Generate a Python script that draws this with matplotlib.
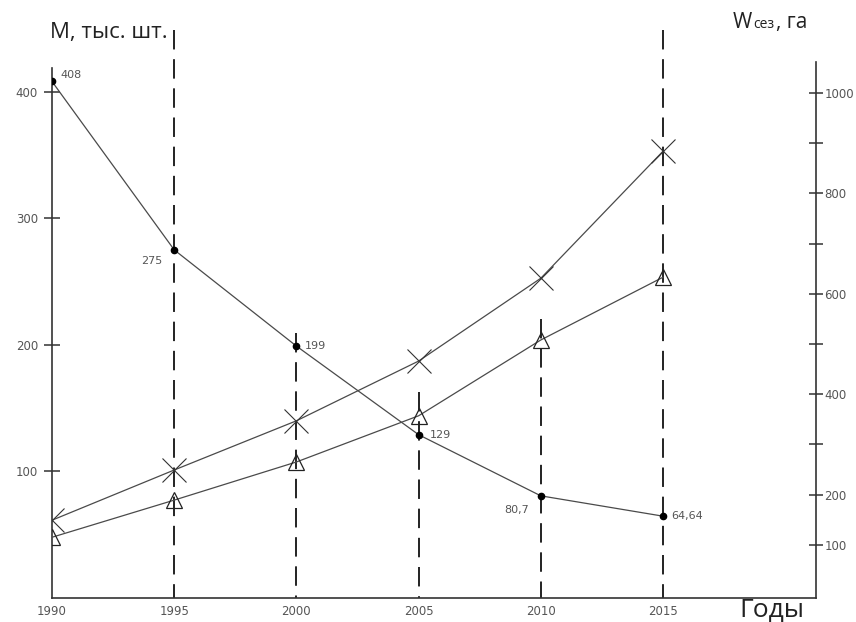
"""
Динамика поголовья (M) и площадей (W сез) по годам, 1990-2015.
Two y-axes: M on the left, W on the right, dashed year guides.
"""

import matplotlib
matplotlib.use("Agg")
import matplotlib.pyplot as plt

# --------------------------------------------------------------------------- #
#  Data
# --------------------------------------------------------------------------- #
YEARS = [1990, 1995, 2000, 2005, 2010, 2015]

M_VALUES = [408, 275, 199, 129, 80.7, 64.64]             # left axis, тыс. шт.
M_LABELS = ["408", "275", "199", "129", "80,7", "64,64"]

W_CROSS = [149, 249, 347, 466, 631, 884]                  # right axis, га
W_TRIANGLE = [115, 189, 265, 357, 508, 633]               # right axis, га

LEFT_TICKS = [100, 200, 300, 400]
RIGHT_TICKS = [100, 200, 300, 400, 500, 600, 700, 800, 900, 1000]
RIGHT_TICK_LABELS = ["100", "200", "", "400", "", "600", "", "800", "", "1000"]

# dashed guides: year and where the dash starts (left-axis units)
GUIDE_YEARS = [1995, 2000, 2005, 2010, 2015]
GUIDE_TOPS = [449, 209, 163, 220, 449]

# --------------------------------------------------------------------------- #
#  Layout / style
# --------------------------------------------------------------------------- #
W_PX, H_PX = 856, 622
AX_LEFT, AX_RIGHT = 52, 816        # pixel x of the two vertical axes
AX_BOTTOM, AX_TOP = 598, 30        # pixel y of bottom spine / top of guides

LINE_C = "#4a4a4a"
TEXT_C = "#555555"
TICK_FONT = "DejaVu Sans"
TITLE_FONT = "Open Sans"

fig = plt.figure(figsize=(W_PX / 100, H_PX / 100), dpi=100)
ax = fig.add_axes([
    AX_LEFT / W_PX,
    1 - AX_BOTTOM / H_PX,
    (AX_RIGHT - AX_LEFT) / W_PX,
    (AX_BOTTOM - AX_TOP) / H_PX,
])
ax2 = ax.twinx()

# scales: left 100 units = 126.6 px, right 100 units = 50.2 px
left_px = 1.266
right_px = 0.502
ax.set_ylim(0, (AX_BOTTOM - AX_TOP) / left_px)
ax2.set_ylim(-3 / right_px, (595 - AX_TOP) / right_px)
ax.set_xlim(1990, 2015 + (AX_RIGHT - 663) / 24.44)

# --- dashed year guides ---------------------------------------------------- #
for yr, top in zip(GUIDE_YEARS, GUIDE_TOPS):
    ax.plot([yr, yr], [top, 0], color="#222222", lw=1.4,
            linestyle=(0, (10, 5)), zorder=1, clip_on=False)

# --- M line (left axis) ---------------------------------------------------- #
ax.plot(YEARS, M_VALUES, color=LINE_C, lw=0.9, marker="o", ms=4.5,
        mfc="black", mec="black", zorder=4)

label_offsets = [(6, 5), (-24, -8), (6, 0), (8, 0), (-26, -10), (6, 0)]
for x, y, s, (dx, dy) in zip(YEARS, M_VALUES, M_LABELS, label_offsets):
    ax.annotate(s, (x, y), xytext=(dx, dy), textcoords="offset points",
                fontsize=8, color=TEXT_C, family=TICK_FONT,
                ha="left", va="center")

# --- W lines (right axis) -------------------------------------------------- #
ax2.plot(YEARS, W_CROSS, color=LINE_C, lw=0.9, marker="x", ms=17,
         mew=0.8, mec="#333333", zorder=4)
ax2.plot(YEARS, W_TRIANGLE, color=LINE_C, lw=0.9, marker="^", ms=12,
         mew=0.9, mfc="none", mec="#222222", zorder=4)

# --- spines and ticks ------------------------------------------------------ #
for a in (ax, ax2):
    a.spines["top"].set_visible(False)
ax.spines["right"].set_visible(False)
ax2.spines["left"].set_visible(False)
ax2.spines["bottom"].set_visible(False)
for sp in (ax.spines["left"], ax.spines["bottom"], ax2.spines["right"]):
    sp.set_color("#333333")
    sp.set_linewidth(1.2)
ax.spines["left"].set_bounds(0, (AX_BOTTOM - 68) / left_px)
ax2.spines["right"].set_bounds(-3 / right_px, (595 - 62) / right_px)

ax.set_yticks(LEFT_TICKS)
ax.set_yticklabels([str(t) for t in LEFT_TICKS])
ax.tick_params(axis="y", direction="inout", length=12, width=1.1,
               color="#333333", labelsize=8.5, labelcolor=TEXT_C, pad=4)

ax2.set_yticks(RIGHT_TICKS)
ax2.set_yticklabels(RIGHT_TICK_LABELS)
ax2.tick_params(axis="y", direction="inout", length=10, width=1.1,
                color="#333333", labelsize=8.5, labelcolor=TEXT_C, pad=1)

ax.set_xticks(YEARS)
ax.set_xticklabels([str(y) for y in YEARS])
ax.tick_params(axis="x", length=0, labelsize=8.5, labelcolor=TEXT_C, pad=5)

for lbl in ax.get_xticklabels() + ax.get_yticklabels() + ax2.get_yticklabels():
    lbl.set_family(TICK_FONT)

# --- axis titles ----------------------------------------------------------- #
fig.text(50 / W_PX, 1 - 38 / H_PX, "М, тыс. шт.", fontsize=16,
         family=TITLE_FONT, color="#222222", va="baseline")

fig.text(733 / W_PX, 1 - 28 / H_PX, "W", fontsize=15,
         family=TITLE_FONT, color="#222222", va="baseline")
fig.text(753 / W_PX, 1 - 28 / H_PX, "сез", fontsize=10,
         family=TITLE_FONT, color="#222222", va="baseline")
fig.text(776 / W_PX, 1 - 28 / H_PX, ", га", fontsize=15,
         family=TITLE_FONT, color="#222222", va="baseline")

fig.text(739 / W_PX, 1 - 617 / H_PX, "Годы", fontsize=19,
         family=TITLE_FONT, color="#222222", va="baseline")

fig.savefig("out.png", dpi=100)
